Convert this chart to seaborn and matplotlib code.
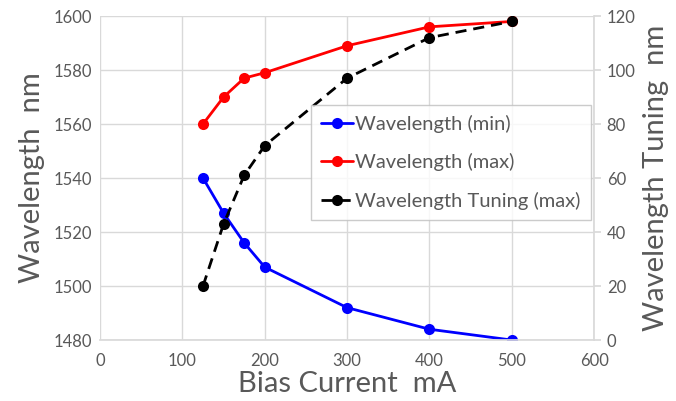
import matplotlib
matplotlib.use("Agg")
import matplotlib.pyplot as plt
import seaborn as sns
import pandas as pd

bias_current = [125, 150, 175, 200, 300, 400, 500]
wl_min = [1540, 1527, 1516, 1507, 1492, 1484, 1480]
wl_max = [1560, 1570, 1577, 1579, 1589, 1596, 1598]
tuning = [20, 43, 61, 72, 97, 112, 118]

df = pd.DataFrame({"I": bias_current, "min": wl_min, "max": wl_max, "tun": tuning})

sns.set_theme(style="white")
plt.rcParams["font.family"] = ["Lato", "DejaVu Sans"]
text_gray = "#595959"
grid_gray = "#d9d9d9"

fig, ax = plt.subplots(figsize=(6.76, 4.01), dpi=100)
fig.subplots_adjust(left=0.148, right=0.879, top=0.96, bottom=0.152)
ax2 = ax.twinx()

sns.lineplot(data=df, x="I", y="min", ax=ax, color="#0000ff", marker="o",
             markersize=8, markeredgewidth=0, linewidth=2, label="Wavelength (min)", legend=False)
sns.lineplot(data=df, x="I", y="max", ax=ax, color="#ff0000", marker="o",
             markersize=8, markeredgewidth=0, linewidth=2, label="Wavelength (max)", legend=False)
sns.lineplot(data=df, x="I", y="tun", ax=ax2, color="black", marker="o",
             markersize=8, markeredgewidth=0, linewidth=2, linestyle=(0, (4, 2.5)),
             label="Wavelength Tuning (max)", legend=False)

ax.set_xlim(0, 600)
ax.set_ylim(1480, 1600)
ax2.set_ylim(0, 120)
ax.set_xticks(range(0, 601, 100))
ax.set_yticks(range(1480, 1601, 20))
ax2.set_yticks(range(0, 121, 20))

ax.grid(True, color=grid_gray, linewidth=1)
ax.set_axisbelow(True)
for s in ["top", "left"]:
    ax.spines[s].set_visible(False)
    ax2.spines[s].set_visible(False)
ax.spines["right"].set_visible(False)
ax.spines["bottom"].set_color(grid_gray)
ax2.spines["bottom"].set_visible(False)
ax2.spines["right"].set_color(grid_gray)

ax.tick_params(axis="y", length=0, labelsize=12, colors=text_gray, pad=6)
ax.tick_params(axis="x", length=0, labelsize=12, colors=text_gray, pad=9)
ax2.tick_params(axis="y", length=5, color=grid_gray, labelsize=12, colors=text_gray, pad=4)

ax.set_xlabel("Bias Current  mA", fontsize=21, color=text_gray, labelpad=2)
ax.set_ylabel("Wavelength  nm", fontsize=21, color=text_gray, labelpad=6)
ax2.set_ylabel("Wavelength Tuning  nm", fontsize=21, color=text_gray, labelpad=5)

h1, lab1 = ax.get_legend_handles_labels()
h2, lab2 = ax2.get_legend_handles_labels()
leg = ax2.legend(h1 + h2, lab1 + lab2, loc="upper left", bbox_to_anchor=(0.427, 0.725),
                 fontsize=14.5, frameon=True, fancybox=False, handlelength=1.6,
                 handletextpad=0.1, labelspacing=1.0, borderpad=0.5, borderaxespad=0)
leg.get_frame().set_edgecolor("#bfbfbf")
leg.get_frame().set_linewidth(1)
for t in leg.get_texts():
    t.set_color(text_gray)

fig.savefig("out.png", dpi=100)
